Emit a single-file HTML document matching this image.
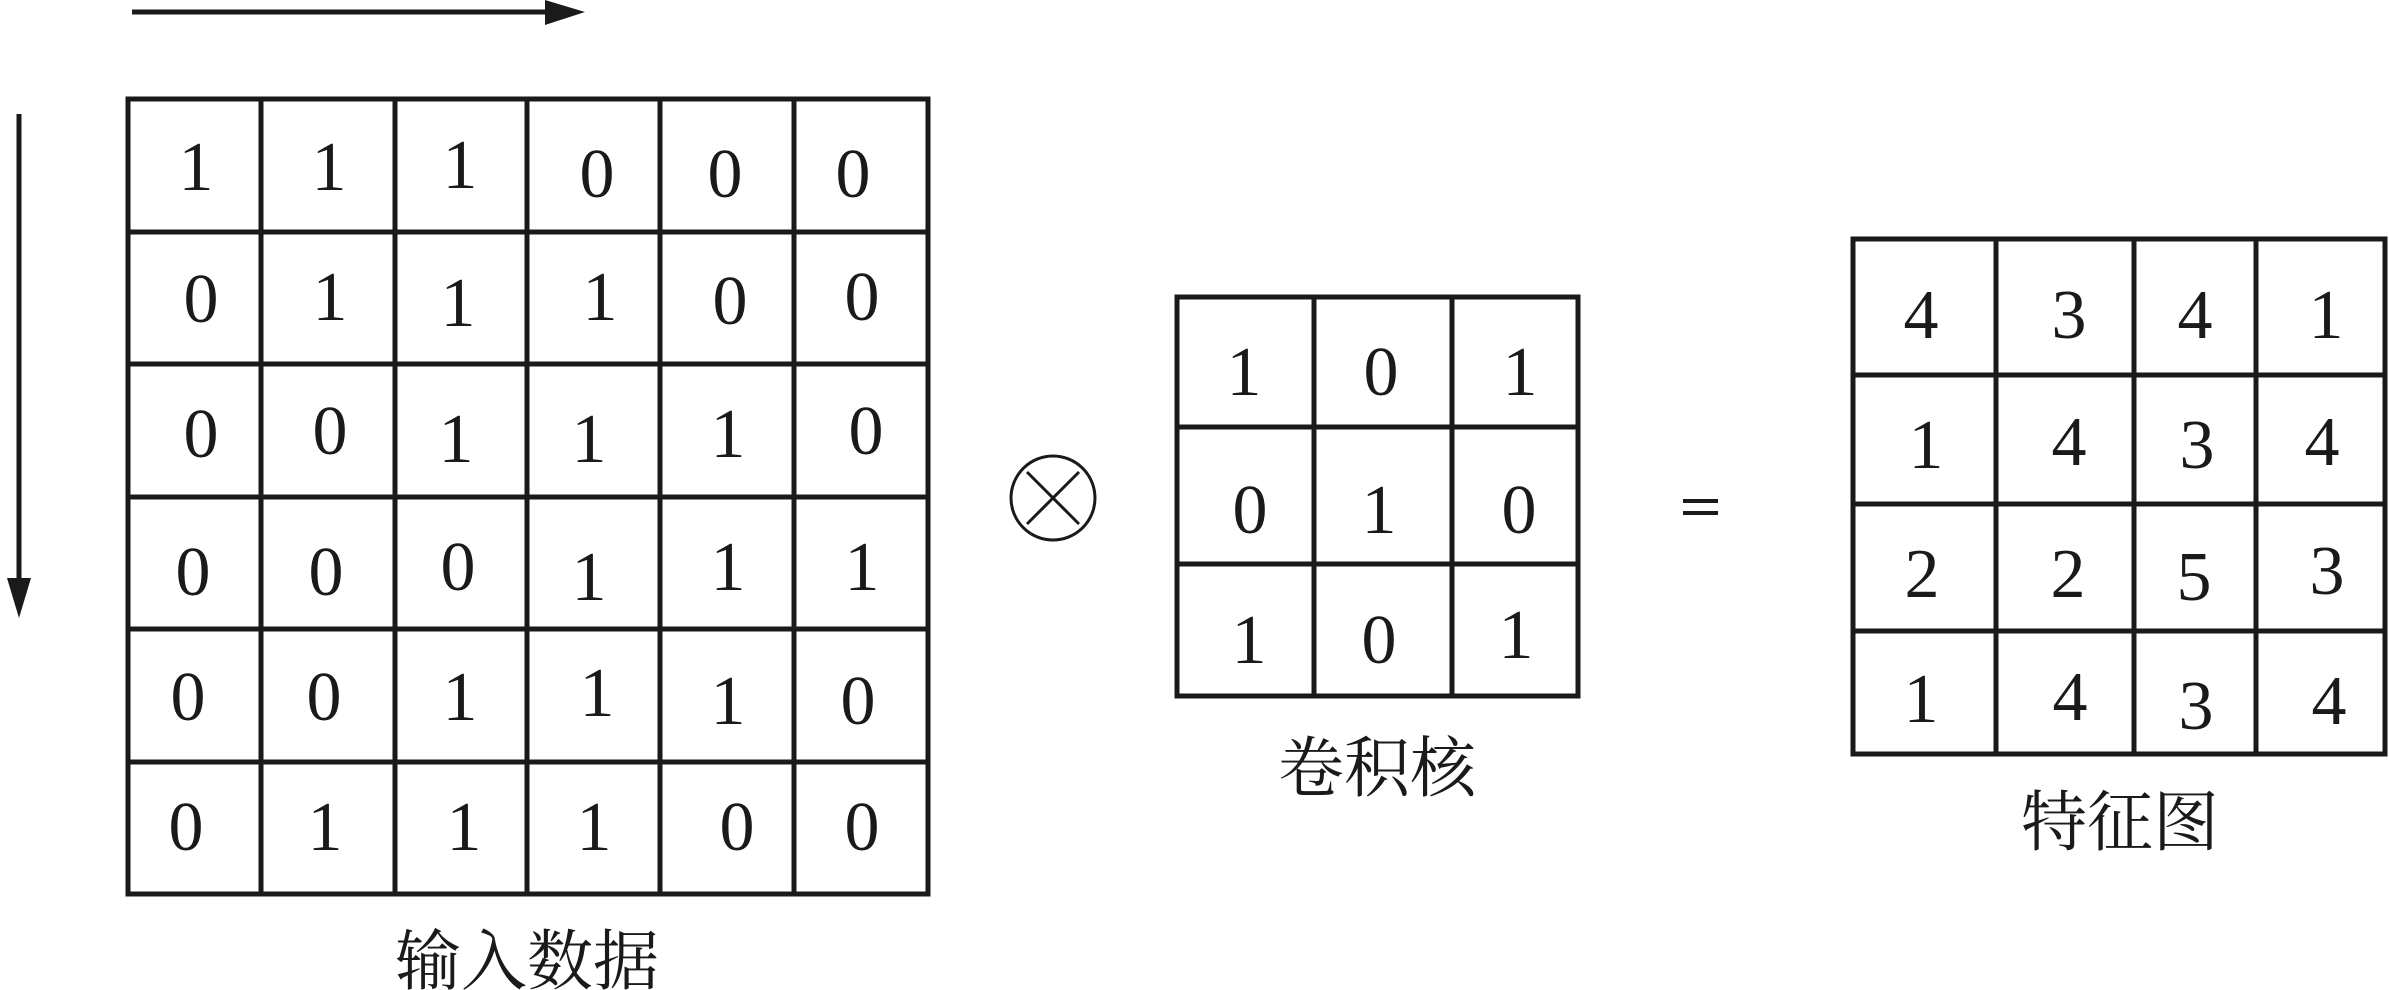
<!DOCTYPE html>
<html><head><meta charset="utf-8"><style>
html,body{margin:0;padding:0;background:#fff;}
svg{display:block;}
.d{font-family:"Liberation Serif",serif;font-size:70px;fill:#1a1a1a;text-anchor:middle;}
.c{font-family:"Liberation Serif","Noto Serif CJK SC",serif;font-size:66px;fill:#1a1a1a;text-anchor:middle;}
</style></head><body>
<svg width="2389" height="990" viewBox="0 0 2389 990" xmlns="http://www.w3.org/2000/svg">
<g stroke="#1a1a1a" stroke-width="5" fill="none">
<line x1="132" y1="12" x2="550" y2="12"/>
<line x1="19" y1="114" x2="19" y2="585"/>
<rect x="128" y="99" width="800" height="795"/>
<line x1="261" y1="99" x2="261" y2="894"/><line x1="395" y1="99" x2="395" y2="894"/>
<line x1="527" y1="99" x2="527" y2="894"/><line x1="660" y1="99" x2="660" y2="894"/>
<line x1="794" y1="99" x2="794" y2="894"/>
<line x1="128" y1="232" x2="928" y2="232"/><line x1="128" y1="364" x2="928" y2="364"/>
<line x1="128" y1="497" x2="928" y2="497"/><line x1="128" y1="629" x2="928" y2="629"/>
<line x1="128" y1="762" x2="928" y2="762"/>
<rect x="1177" y="297" width="401" height="399"/>
<line x1="1314" y1="297" x2="1314" y2="696"/><line x1="1452" y1="297" x2="1452" y2="696"/>
<line x1="1177" y1="427" x2="1578" y2="427"/><line x1="1177" y1="564" x2="1578" y2="564"/>
<rect x="1853" y="239" width="532" height="515"/>
<line x1="1996" y1="239" x2="1996" y2="754"/><line x1="2134" y1="239" x2="2134" y2="754"/>
<line x1="2256" y1="239" x2="2256" y2="754"/>
<line x1="1853" y1="375" x2="2385" y2="375"/><line x1="1853" y1="504" x2="2385" y2="504"/>
<line x1="1853" y1="631" x2="2385" y2="631"/>
</g>
<polygon points="545,0 585,12 545,25" fill="#1a1a1a"/>
<polygon points="7,578 19,618 31,578" fill="#1a1a1a"/>
<circle cx="1053" cy="498" r="42" fill="none" stroke="#1a1a1a" stroke-width="3"/>
<line x1="1027" y1="472" x2="1079" y2="524" stroke="#1a1a1a" stroke-width="3"/>
<line x1="1079" y1="472" x2="1027" y2="524" stroke="#1a1a1a" stroke-width="3"/>
<line x1="1683" y1="501" x2="1718" y2="501" stroke="#1a1a1a" stroke-width="4"/>
<line x1="1683" y1="513" x2="1718" y2="513" stroke="#1a1a1a" stroke-width="4"/>
<g class="d">
<text x="196" y="190">1</text><text x="329" y="190">1</text><text x="460" y="188">1</text><text x="597" y="197">0</text><text x="725" y="197">0</text><text x="853" y="197">0</text>
<text x="201" y="322">0</text><text x="330" y="320">1</text><text x="458" y="326">1</text><text x="600" y="320">1</text><text x="730" y="324">0</text><text x="862" y="320">0</text>
<text x="201" y="457">0</text><text x="330" y="454">0</text><text x="456" y="462">1</text><text x="589" y="462">1</text><text x="728" y="457">1</text><text x="866" y="454">0</text>
<text x="193" y="595">0</text><text x="326" y="595">0</text><text x="458" y="590">0</text><text x="589" y="600">1</text><text x="728" y="590">1</text><text x="862" y="590">1</text>
<text x="188" y="720">0</text><text x="324" y="720">0</text><text x="460" y="720">1</text><text x="597" y="716">1</text><text x="728" y="724">1</text><text x="858" y="724">0</text>
<text x="186" y="850">0</text><text x="325" y="850">1</text><text x="464" y="850">1</text><text x="594" y="850">1</text><text x="737" y="850">0</text><text x="862" y="850">0</text>
<text x="1244" y="395">1</text><text x="1381" y="395">0</text><text x="1520" y="395">1</text>
<text x="1250" y="533">0</text><text x="1379" y="533">1</text><text x="1519" y="533">0</text>
<text x="1249" y="663">1</text><text x="1379" y="663">0</text><text x="1516" y="658">1</text>
<text x="1921" y="338">4</text><text x="2069" y="338">3</text><text x="2195" y="338">4</text><text x="2326" y="338">1</text>
<text x="1926" y="468">1</text><text x="2069" y="465">4</text><text x="2197" y="468">3</text><text x="2322" y="465">4</text>
<text x="1922" y="597">2</text><text x="2068" y="597">2</text><text x="2194" y="600">5</text><text x="2327" y="594">3</text>
<text x="1921" y="722">1</text><text x="2070" y="720">4</text><text x="2196" y="729">3</text><text x="2329" y="724">4</text>
</g>
<g class="c">
<text x="527" y="984">输入数据</text>
<text x="1377" y="791">卷积核</text>
<text x="2120" y="845">特征图</text>
</g>
</svg>
</body></html>
